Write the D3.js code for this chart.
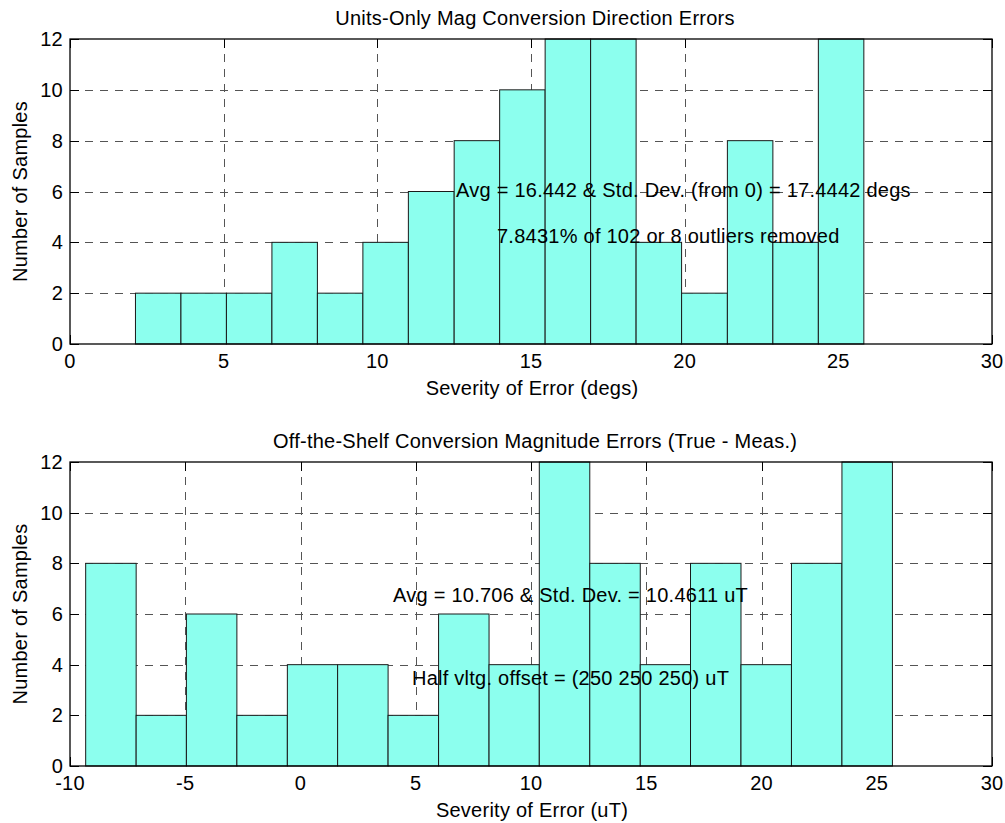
<!DOCTYPE html>
<html>
<head>
<meta charset="utf-8">
<script src="https://cdn.jsdelivr.net/npm/d3@7"></script>
<style>
  html, body { margin: 0; padding: 0; background: #fff; }
  svg { display: block; }
  text { font-family: "Liberation Sans", Arial, Helvetica, sans-serif; fill: #000; letter-spacing: 0.25px; }
</style>
</head>
<body>
<svg id="chart" width="1005" height="823"></svg>
<script>
// ---------------- data ----------------
const topTitle = "Units-Only Mag Conversion Direction Errors";
const topXLabel = "Severity of Error (degs)";
const topBinEdges = [2.13, 3.61, 5.09, 6.57, 8.05, 9.53, 11.01, 12.50, 13.98, 15.46, 16.94, 18.42, 19.90, 21.39, 22.87, 24.35, 25.83];
const topCounts = [2, 2, 2, 4, 2, 4, 6, 8, 10, 12, 12, 4, 2, 8, 4, 12];
const topXTicks = [0, 5, 10, 15, 20, 25, 30];
const topNotes = ["Avg = 16.442 & Std. Dev. (from 0) = 17.4442 degs", "7.8431% of 102 or 8 outliers removed"];

const botTitle = "Off-the-Shelf Conversion Magnitude Errors (True - Meas.)";
const botXLabel = "Severity of Error (uT)";
const botBinEdges = [-9.32, -7.13, -4.95, -2.76, -0.57, 1.61, 3.80, 5.99, 8.18, 10.36, 12.55, 14.74, 16.92, 19.11, 21.30, 23.49, 25.68];
const botCounts = [8, 2, 6, 2, 4, 4, 2, 6, 4, 12, 8, 4, 8, 4, 8, 12];
const botXTicks = [-10, -5, 0, 5, 10, 15, 20, 25, 30];
const botNotes = ["Avg = 10.706 & Std. Dev. = 10.4611 uT", "Half vltg. offset = (250 250 250) uT"];

const yTicks = [0, 2, 4, 6, 8, 10, 12];
const yLabel = "Number of Samples";

// ---------------- drawing ----------------
const svg = d3.select("#chart");
svg.append("rect").attr("width", 1005).attr("height", 823).attr("fill", "#fff");

const FONT = 20;
const barFill = "#8cffee";

function panel(cfg) {
  const x = d3.scaleLinear().domain(cfg.xDomain).range([70, 992]);
  const y = d3.scaleLinear().domain([0, 12]).range([cfg.bottom, cfg.top]);
  const g = svg.append("g");

  // grid (behind data)
  const grid = g.append("g").attr("stroke", "#555").attr("stroke-width", 1).attr("stroke-dasharray", "8,7");
  grid.selectAll("line.gx").data(cfg.xTicks.slice(1, -1)).join("line")
    .attr("x1", d => Math.round(x(d)) + 0.5).attr("x2", d => Math.round(x(d)) + 0.5)
    .attr("y1", cfg.top).attr("y2", cfg.bottom);
  grid.selectAll("line.gy").data(yTicks.slice(1, -1)).join("line")
    .attr("y1", d => Math.round(y(d)) + 0.5).attr("y2", d => Math.round(y(d)) + 0.5)
    .attr("x1", 70).attr("x2", 992);

  // tick marks (inside, behind data)
  const ticks = g.append("g").attr("stroke", "#000").attr("stroke-width", 1);
  const tl = 9;
  cfg.xTicks.forEach(d => {
    const px = Math.round(x(d)) + 0.5;
    ticks.append("line").attr("x1", px).attr("x2", px).attr("y1", cfg.bottom).attr("y2", cfg.bottom - tl);
    ticks.append("line").attr("x1", px).attr("x2", px).attr("y1", cfg.top).attr("y2", cfg.top + tl);
  });
  yTicks.forEach(d => {
    const py = Math.round(y(d)) + 0.5;
    ticks.append("line").attr("x1", 70).attr("x2", 70 + tl).attr("y1", py).attr("y2", py);
    ticks.append("line").attr("x1", 992).attr("x2", 992 - tl).attr("y1", py).attr("y2", py);
  });

  // bars
  const bins = cfg.counts.map((c, i) => ({ x0: cfg.edges[i], x1: cfg.edges[i + 1], c }));
  g.append("g").selectAll("rect").data(bins).join("rect")
    .attr("x", d => x(d.x0)).attr("width", d => x(d.x1) - x(d.x0))
    .attr("y", d => y(d.c)).attr("height", d => y(0) - y(d.c))
    .attr("fill", barFill).attr("stroke", "#1a1a1a").attr("stroke-width", 1);

  // annotations
  cfg.notes.forEach((t, i) => {
    g.append("text").attr("x", cfg.noteX[i]).attr("y", cfg.noteY[i])
      .attr("font-size", FONT).text(t);
  });

  // axes box
  g.append("rect").attr("x", 70).attr("y", cfg.top).attr("width", 922).attr("height", cfg.bottom - cfg.top)
    .attr("fill", "none").attr("stroke", "#000").attr("stroke-width", 1.3);

  // tick labels
  g.selectAll("text.xt").data(cfg.xTicks).join("text").attr("class", "xt")
    .attr("x", d => x(d)).attr("y", cfg.bottom + 24).attr("text-anchor", "middle")
    .attr("font-size", FONT).text(d => d);
  g.selectAll("text.yt").data(yTicks).join("text").attr("class", "yt")
    .attr("x", 63).attr("y", d => y(d) + 7).attr("text-anchor", "end")
    .attr("font-size", FONT).text(d => d);

  // labels
  g.append("text").attr("x", 535).attr("y", cfg.titleY).attr("text-anchor", "middle")
    .attr("font-size", FONT).text(cfg.title);
  g.append("text").attr("x", 532).attr("y", cfg.bottom + 51).attr("text-anchor", "middle")
    .attr("font-size", FONT).text(cfg.xLabel);
  g.append("text").attr("transform", `translate(27,${(cfg.top + cfg.bottom) / 2}) rotate(-90)`)
    .attr("text-anchor", "middle").attr("font-size", FONT).text(yLabel);
}

panel({
  xDomain: [0, 30], top: 39, bottom: 344, xTicks: topXTicks,
  edges: topBinEdges, counts: topCounts, notes: topNotes,
  noteX: [456, 497], noteY: [197, 243],
  title: topTitle, titleY: 25, xLabel: topXLabel
});
panel({
  xDomain: [-10, 30], top: 462, bottom: 766, xTicks: botXTicks,
  edges: botBinEdges, counts: botCounts, notes: botNotes,
  noteX: [393, 412], noteY: [602, 685],
  title: botTitle, titleY: 448, xLabel: botXLabel
});
</script>
</body>
</html>
